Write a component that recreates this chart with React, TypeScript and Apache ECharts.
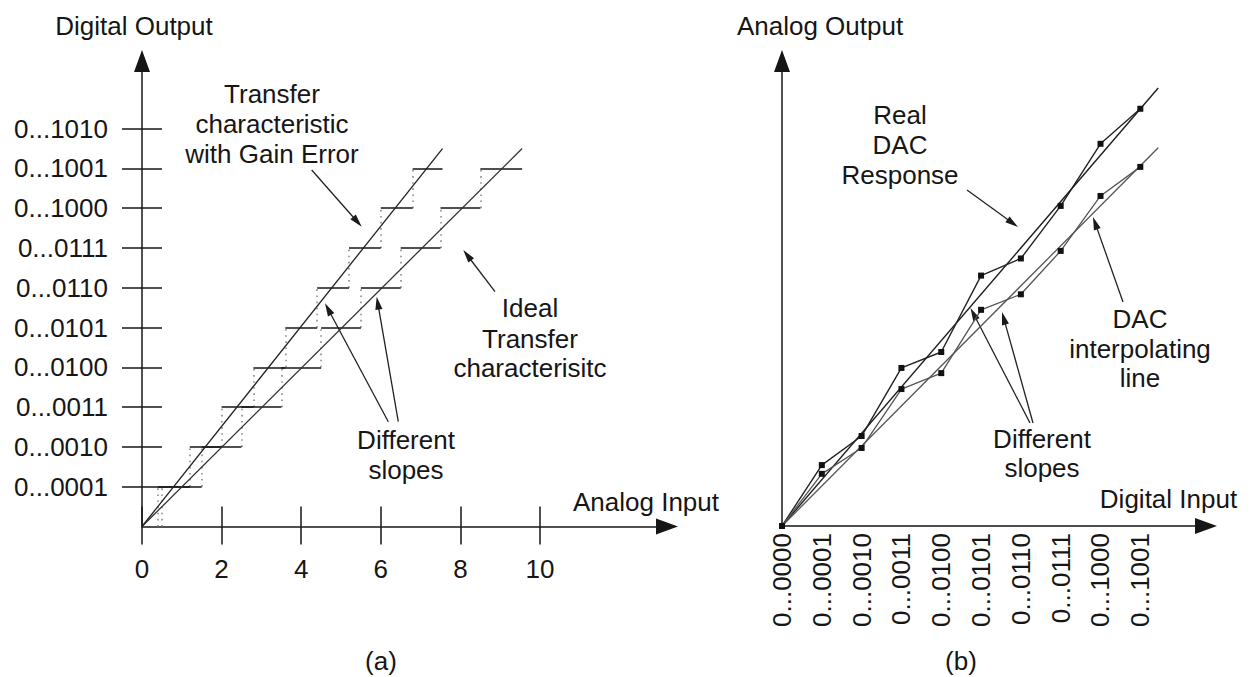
import React, { useEffect, useRef } from 'react';
import * as echarts from 'echarts';

// ---------- Panel (a): ADC transfer characteristic ----------
const outputCodeLabelsA = [
  '0...0001', '0...0010', '0...0011', '0...0100', '0...0101',
  '0...0110', '0...0111', '0...1000', '0...1001', '0...1010',
];
const outputCodeValuesA = [1, 2, 3, 4, 5, 6, 7, 8, 9, 10];
const inputTicksA = [0, 2, 4, 6, 8, 10];

// horizontal treads of the two staircases (code, start, end on the input axis)
const stepCodesA = [1, 2, 3, 4, 5, 6, 7, 8, 9];
const idealStepStartA = [0.5, 1.5, 2.5, 3.5, 4.5, 5.5, 6.5, 7.5, 8.5];
const idealStepEndA = [1.5, 2.5, 3.5, 4.5, 5.5, 6.5, 7.5, 8.5, 9.55];
const gainStepStartA = [0.4, 1.2, 2.0, 2.8, 3.6, 4.4, 5.2, 6.0, 6.8];
const gainStepEndA = [1.2, 2.0, 2.8, 3.6, 4.4, 5.2, 6.0, 6.8, 7.55];

// straight transfer lines through the staircases
const idealLineA = [[0, 0], [9.55, 9.5]];
const gainLineA = [[0, 0], [7.55, 9.5]];

// ---------- Panel (b): DAC response ----------
const inputCodeLabelsB = [
  '0...0000', '0...0001', '0...0010', '0...0011', '0...0100',
  '0...0101', '0...0110', '0...0111', '0...1000', '0...1001',
];
const inputCodeValuesB = [0, 1, 2, 3, 4, 5, 6, 7, 8, 9];
const realResponseB = [0, 1.53, 2.26, 3.97, 4.37, 6.29, 6.72, 8.04, 9.6, 10.48];
const interpResponseB = [0, 1.31, 1.96, 3.44, 3.84, 5.43, 5.82, 6.91, 8.29, 9.02];
const realLineB = [[0, 0], [9.45, 11.0]];
const interpLineB = [[0, 0], [9.45, 9.5]];

const FONT = '"Liberation Sans", Arial, Helvetica, sans-serif';
const INK = '#161616';

function arrow(x1: number, y1: number, x2: number, y2: number) {
  const dx = x2 - x1;
  const dy = y2 - y1;
  const len = Math.hypot(dx, dy);
  const ux = dx / len;
  const uy = dy / len;
  const hl = 13;
  const hw = 3.6;
  const bx = x2 - ux * hl;
  const by = y2 - uy * hl;
  return [
    { type: 'line', silent: true, shape: { x1, y1, x2: bx + ux * 2, y2: by + uy * 2 }, style: { stroke: '#222', lineWidth: 1.3 } },
    {
      type: 'polygon',
      silent: true,
      shape: { points: [[x2, y2], [bx - uy * hw, by + ux * hw], [bx + uy * hw, by - ux * hw]] },
      style: { fill: '#1a1a1a' },
    },
  ];
}

function label(text: string, x: number, y: number) {
  return {
    type: 'text',
    silent: true,
    x,
    y,
    style: { text, fontSize: 26, fontFamily: FONT, fill: INK, align: 'center', verticalAlign: 'middle' },
  };
}

export default function App() {
  const ref = useRef<HTMLDivElement>(null);

  useEffect(() => {
    if (!ref.current) return;
    const chart = echarts.init(ref.current, undefined, { renderer: 'svg' });

    const axisLineStyle = { color: INK, width: 1.5 };
    const arrowLine = (show = true) => ({
      show,
      onZero: false,
      symbol: ['none', 'triangle'],
      symbolSize: [16, 22],
      lineStyle: axisLineStyle,
    });
    const labelText = { fontSize: 26, fontFamily: FONT, color: INK };

    const segs = (codes: number[], starts: number[], ends: number[]) =>
      codes.map((c, i) => ({ coords: [[starts[i], c], [ends[i], c]] }));
    const risers = (codes: number[], starts: number[]) =>
      codes.map((c, i) => ({ coords: [[starts[i], c - 1], [starts[i], c]] }));

    const option: any = {
      animation: false,
      backgroundColor: '#ffffff',
      grid: [
        { left: 142, top: 61, width: 525, height: 465.5, outerBoundsMode: 'none', containLabel: false },
        { left: 782, top: 61, width: 424, height: 465, outerBoundsMode: 'none', containLabel: false },
      ],
      xAxis: [
        {
          gridIndex: 0, type: 'value', position: 'bottom', min: 0, max: 13.19,
          axisLine: arrowLine(),
          axisTick: { show: true, customValues: inputTicksA, inside: false, length: 18, lineStyle: axisLineStyle },
          axisLabel: { ...labelText, customValues: inputTicksA, margin: 29 },
          splitLine: { show: false },
        },
        {
          gridIndex: 0, type: 'value', position: 'bottom', min: 0, max: 13.19,
          axisLine: { show: false },
          axisTick: { show: true, customValues: inputTicksA, inside: true, length: 20, lineStyle: axisLineStyle },
          axisLabel: { show: false },
          splitLine: { show: false },
        },
        {
          gridIndex: 1, type: 'value', position: 'bottom', min: 0, max: 10.65,
          axisLine: arrowLine(),
          axisTick: { show: false },
          axisLabel: {
            ...labelText,
            customValues: inputCodeValuesB,
            rotate: 90,
            margin: 7,
            formatter: (v: number) => inputCodeLabelsB[inputCodeValuesB.indexOf(v)] ?? '',
          },
          splitLine: { show: false },
        },
      ],
      yAxis: [
        {
          gridIndex: 0, type: 'value', position: 'left', min: 0, max: 11.7,
          axisLine: arrowLine(),
          axisTick: { show: true, customValues: outputCodeValuesA, inside: false, length: 20, lineStyle: axisLineStyle },
          axisLabel: {
            ...labelText,
            customValues: outputCodeValuesA,
            margin: 34,
            formatter: (v: number) => outputCodeLabelsA[outputCodeValuesA.indexOf(v)] ?? '',
          },
          splitLine: { show: false },
        },
        {
          gridIndex: 0, type: 'value', position: 'left', min: 0, max: 11.7,
          axisLine: { show: false },
          axisTick: { show: true, customValues: outputCodeValuesA, inside: true, length: 20, lineStyle: axisLineStyle },
          axisLabel: { show: false },
          splitLine: { show: false },
        },
        {
          gridIndex: 1, type: 'value', position: 'left', min: 0, max: 11.68,
          axisLine: arrowLine(),
          axisTick: { show: false },
          axisLabel: { show: false },
          splitLine: { show: false },
        },
      ],
      series: [
        // panel (a): dotted risers of both staircases
        {
          type: 'lines', coordinateSystem: 'cartesian2d', xAxisIndex: 0, yAxisIndex: 0, silent: true,
          lineStyle: { color: '#8a8a8a', width: 1.6, type: [1.6, 4.5], opacity: 1 },
          data: [...risers(stepCodesA, idealStepStartA), ...risers(stepCodesA, gainStepStartA)],
        },
        // panel (a): straight transfer lines
        {
          type: 'line', xAxisIndex: 0, yAxisIndex: 0, data: idealLineA, showSymbol: false, silent: true,
          lineStyle: { color: '#333', width: 1.3 },
        },
        {
          type: 'line', xAxisIndex: 0, yAxisIndex: 0, data: gainLineA, showSymbol: false, silent: true,
          lineStyle: { color: '#222', width: 1.3 },
        },
        // panel (a): staircase treads
        {
          type: 'lines', coordinateSystem: 'cartesian2d', xAxisIndex: 0, yAxisIndex: 0, silent: true,
          lineStyle: { color: INK, width: 1.5, opacity: 1 },
          data: [...segs(stepCodesA, idealStepStartA, idealStepEndA), ...segs(stepCodesA, gainStepStartA, gainStepEndA)],
        },
        // panel (b): straight lines
        {
          type: 'line', xAxisIndex: 2, yAxisIndex: 2, data: realLineB, showSymbol: false, silent: true,
          lineStyle: { color: '#1e1e1e', width: 1.4 },
        },
        {
          type: 'line', xAxisIndex: 2, yAxisIndex: 2, data: interpLineB, showSymbol: false, silent: true,
          lineStyle: { color: '#555', width: 1.3 },
        },
        // panel (b): measured responses
        {
          type: 'line', xAxisIndex: 2, yAxisIndex: 2, silent: true,
          data: inputCodeValuesB.map((x, i) => [x, realResponseB[i]]),
          symbol: 'rect', symbolSize: 6, showAllSymbol: true,
          itemStyle: { color: '#111' },
          lineStyle: { color: '#222', width: 1.4 },
        },
        {
          type: 'line', xAxisIndex: 2, yAxisIndex: 2, silent: true,
          data: inputCodeValuesB.map((x, i) => [x, interpResponseB[i]]),
          symbol: 'rect', symbolSize: 6, showAllSymbol: true,
          itemStyle: { color: '#111' },
          lineStyle: { color: '#555', width: 1.3 },
        },
      ],
      graphic: [
        // panel (a) texts
        label('Digital Output', 134, 25.5),
        label('Transfer', 272, 93.5),
        label('characteristic', 272, 123.5),
        label('with Gain Error', 272, 154),
        label('Ideal', 530, 307.5),
        label('Transfer', 530, 338.5),
        label('characterisitc', 530, 368),
        label('Different', 406, 440),
        label('slopes', 406, 469.5),
        label('Analog Input', 646, 502),
        label('(a)', 381, 661),
        ...arrow(311.7, 170, 361.7, 226.7),
        ...arrow(495, 291.7, 463.3, 250),
        ...arrow(388.3, 421.7, 325, 303.3),
        ...arrow(398.3, 421.7, 376.7, 296.7),
        // panel (b) texts
        label('Analog Output', 820, 25.5),
        label('Real', 900, 114.5),
        label('DAC', 900, 145),
        label('Response', 900, 175),
        label('DAC', 1140, 319),
        label('interpolating', 1140, 349),
        label('line', 1140, 378),
        label('Different', 1042, 439),
        label('slopes', 1042, 468),
        label('Digital Input', 1168.5, 498.5),
        label('(b)', 961, 661),
        ...arrow(967, 190, 1018, 227),
        ...arrow(1123, 302, 1093, 217),
        ...arrow(1030, 423, 970.5, 308),
        ...arrow(1033, 423, 1002, 312),
      ],
    };

    chart.setOption(option);
    return () => chart.dispose();
  }, []);

  return (
    <div
      ref={ref}
      style={{ position: 'absolute', left: 0, top: 0, width: 1252, height: 677, background: '#ffffff' }}
    />
  );
}
